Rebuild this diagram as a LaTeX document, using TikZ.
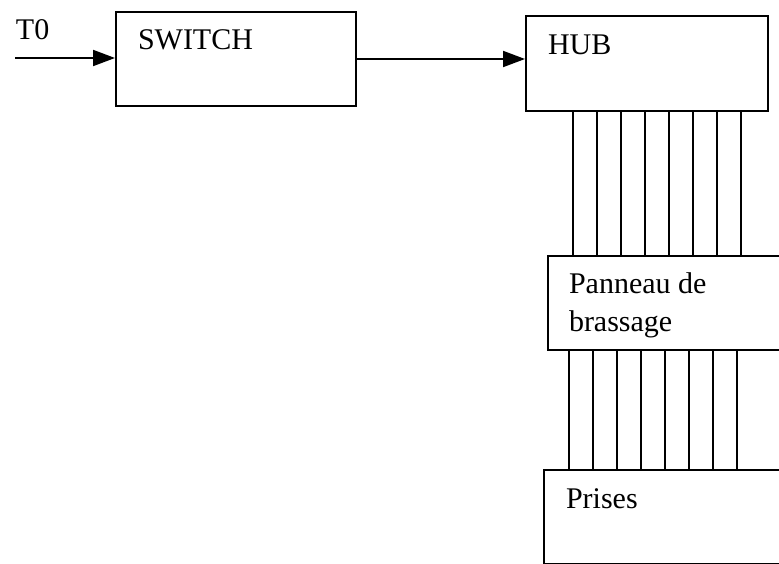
\documentclass[tikz,border=0pt]{standalone}
\usepackage{fontspec}
\setmainfont{Liberation Serif}
\usetikzlibrary{positioning,calc,arrows.meta}

\tikzset{every picture/.style={line width=2pt}}
\tikzset{
  blockbox/.style={draw, rectangle, inner sep=0pt, anchor=north west},
  blocktext/.style={anchor=base west, inner sep=0pt, align=left, font=\fontsize{30}{38}\selectfont},
  fleche/.style={-{Triangle[length=22pt,width=16pt]}},
}

\begin{document}
\begin{tikzpicture}[x=1pt,y=1pt,yscale=-1,xscale=1]
\clip (0,0) rectangle (779,564);

%Shape: Rectangle [switch]
\node[blockbox, minimum width=240pt, minimum height=94pt] (switch) at (115,11) {};
%Shape: Rectangle [hub]
\node[blockbox, minimum width=242pt, minimum height=95pt] (hub) at (525,15) {};
%Shape: Rectangle [panneau]
\node[blockbox, minimum width=270pt, minimum height=94pt] (panneau) at (547,255) {};
%Shape: Rectangle [prises]
\node[blockbox, minimum width=270pt, minimum height=94pt] (prises) at (543,469) {};

%Straight Lines
\coordinate (t0in) at (15,58);
\draw[fleche] (t0in) -- (t0in -| switch.west);
\draw[fleche] (switch.east) -- (switch.east -| hub.west);

%Straight Lines: cables
\foreach \i in {0,...,7}
  \draw ($(hub.south west)+(48+24*\i,0)$) coordinate (haut) -- (haut |- panneau.north);
\foreach \i in {0,...,7}
  \draw ($(panneau.south west)+(22+24*\i,0)$) coordinate (bas) -- (bas |- prises.north);

% Text Node
\node[blocktext] (t0) at (15,40) {T0};
\node[blocktext] (switchtxt) at ($(switch.north west)+(22,39)$) {SWITCH};
\node[blocktext] (hubtxt) at ($(hub.north west)+(22,40)$) {HUB};
\node[blocktext] (panneautxt) at ($(panneau.north west)+(21,76)$) {Panneau de\\brassage};
\node[blocktext] (prisestxt) at ($(prises.north west)+(22,39)$) {Prises};

\end{tikzpicture}
\end{document}
